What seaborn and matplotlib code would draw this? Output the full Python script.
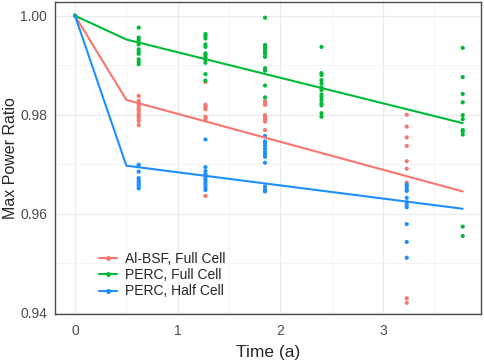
import pandas as pd
import matplotlib
matplotlib.use("Agg")
import matplotlib.pyplot as plt
import seaborn as sns
from matplotlib.lines import Line2D
from matplotlib.ticker import MultipleLocator

sns.set_style("white")
plt.rcParams["font.family"] = ["Liberation Sans", "DejaVu Sans"]

groups = ["Al-BSF, Full Cell", "PERC, Full Cell", "PERC, Half Cell"]
colors = ["#F8766D", "#00BA38", "#1F8FFF"]

# ---- fitted degradation lines (time, ratio) ----
line_t = [0.0, 0.5, 3.775]
line_red = [1.0, 0.9830, 0.9645]
line_green = [1.0, 0.9952, 0.9783]
line_blue = [1.0, 0.9697, 0.9610]

# ---- measured modules ----
t_red = [0.0, 0.62, 1.27, 1.85, 3.23]
red_vals = [
    [1.0],
    [0.9838, 0.9828, 0.9823, 0.9818, 0.9812, 0.9808, 0.9802, 0.9797, 0.9792, 0.9787, 0.9779],
    [0.9866, 0.9820, 0.9816, 0.9811, 0.9796, 0.9791, 0.9636],
    [0.9827, 0.9823, 0.9820, 0.9799, 0.9796, 0.9791, 0.9786, 0.9769],
    [0.9800, 0.9776, 0.9754, 0.9737, 0.9706, 0.9691, 0.9663, 0.9429, 0.9420],
]

t_green = [0.0, 0.62, 1.27, 1.85, 2.40, 3.775]
green_vals = [
    [1.0],
    [0.9976, 0.9956, 0.9951, 0.9946, 0.9942, 0.9932, 0.9927, 0.9923, 0.9912, 0.9907, 0.9902],
    [0.9963, 0.9959, 0.9954, 0.9942, 0.9937, 0.9924, 0.9921, 0.9916, 0.9911, 0.9905, 0.9882, 0.9869],
    [0.9996, 0.9941, 0.9936, 0.9932, 0.9927, 0.9923, 0.9917, 0.9894, 0.9889, 0.9859, 0.9835],
    [0.9937, 0.9884, 0.9880, 0.9870, 0.9863, 0.9855, 0.9850, 0.9841, 0.9836, 0.9830, 0.9823,
     0.9819, 0.9803, 0.9796],
    [0.9935, 0.9876, 0.9842, 0.9825, 0.9799, 0.9791, 0.9769, 0.9766, 0.9760, 0.9574, 0.9555],
]

t_blue = [0.0, 0.62, 1.27, 1.85, 3.23]
blue_vals = [
    [1.0],
    [0.9699, 0.9697, 0.9685, 0.9672, 0.9667, 0.9663, 0.9659, 0.9655, 0.9651],
    [0.9750, 0.9694, 0.9686, 0.9680, 0.9677, 0.9673, 0.9668, 0.9663, 0.9658, 0.9653, 0.9648],
    [0.9757, 0.9746, 0.9742, 0.9737, 0.9731, 0.9725, 0.9720, 0.9715, 0.9703, 0.9655, 0.9649,
     0.9645],
    [0.9659, 0.9655, 0.9649, 0.9646, 0.9632, 0.9623, 0.9618, 0.9613, 0.9579, 0.9543, 0.9511],
]

rows = []
for name, times, vals in zip(groups, [t_red, t_green, t_blue], [red_vals, green_vals, blue_vals]):
    for t, vs in zip(times, vals):
        for v in vs:
            rows.append({"time": t, "ratio": v, "group": name})
pts = pd.DataFrame(rows)

lines = pd.concat([
    pd.DataFrame({"time": line_t, "ratio": vals, "group": name})
    for name, vals in zip(groups, [line_red, line_green, line_blue])
])

fig = plt.figure(figsize=(4.84, 3.6), dpi=100)
ax = fig.add_axes([0.1136, 0.1278, 0.8802, 0.8666])
palette = dict(zip(groups, colors))

sns.lineplot(data=lines, x="time", y="ratio", hue="group", palette=palette,
             estimator=None, sort=False, linewidth=1.5, legend=False, ax=ax)
sns.scatterplot(data=pts, x="time", y="ratio", hue="group", palette=palette,
                s=9, linewidth=0, legend=False, ax=ax)

ax.set_xlim(-0.195, 3.953)
ax.set_ylim(0.93974, 1.00277)
ax.xaxis.set_major_locator(MultipleLocator(1))
ax.xaxis.set_minor_locator(MultipleLocator(0.5))
ax.yaxis.set_major_locator(MultipleLocator(0.02))
ax.yaxis.set_minor_locator(MultipleLocator(0.01))
ax.set_yticklabels([f"{v:.2f}" for v in ax.get_yticks()])
ax.grid(which="major", color="#EBEBEB", linewidth=0.9)
ax.grid(which="minor", color="#F3F3F3", linewidth=0.6)
ax.set_axisbelow(True)
for sp in ax.spines.values():
    sp.set_color("#4D4D4D")
    sp.set_linewidth(1.0)
ax.tick_params(axis="x", which="major", pad=4)
ax.tick_params(axis="y", which="major", pad=2)
ax.tick_params(which="major", length=3.5, width=0.9, color="#333333",
               labelsize=10, labelcolor="#4D4D4D")
ax.tick_params(which="minor", length=0)
ax.set_xlabel("Time (a)", fontsize=12.5, labelpad=5)
ax.set_ylabel("Max Power Ratio", fontsize=11.5, labelpad=2)

handles = [Line2D([0], [0], color=c, marker="o", markersize=2.5, linewidth=1.5) for c in colors]
ax.legend(handles, groups, loc="lower left", bbox_to_anchor=(0.075, 0.01), frameon=False,
          fontsize=10, handlelength=1.3, handletextpad=0.55, labelspacing=0.15)

fig.savefig("out.png", dpi=100)
